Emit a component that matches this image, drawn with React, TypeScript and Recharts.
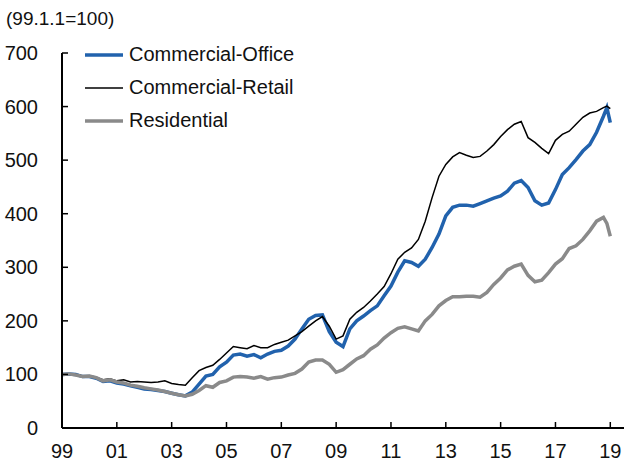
import React from 'react';
import { LineChart, Line, XAxis, YAxis } from 'recharts';

// quarterly points (fractional year), last quarter split to catch the peak
const periods = [
  1999, 1999.25, 1999.5, 1999.75,
  2000, 2000.25, 2000.5, 2000.75,
  2001, 2001.25, 2001.5, 2001.75,
  2002, 2002.25, 2002.5, 2002.75,
  2003, 2003.25, 2003.5, 2003.75,
  2004, 2004.25, 2004.5, 2004.75,
  2005, 2005.25, 2005.5, 2005.75,
  2006, 2006.25, 2006.5, 2006.75,
  2007, 2007.25, 2007.5, 2007.75,
  2008, 2008.25, 2008.5, 2008.75,
  2009, 2009.25, 2009.5, 2009.75,
  2010, 2010.25, 2010.5, 2010.75,
  2011, 2011.25, 2011.5, 2011.75,
  2012, 2012.25, 2012.5, 2012.75,
  2013, 2013.25, 2013.5, 2013.75,
  2014, 2014.25, 2014.5, 2014.75,
  2015, 2015.25, 2015.5, 2015.75,
  2016, 2016.25, 2016.5, 2016.75,
  2017, 2017.25, 2017.5, 2017.75,
  2018, 2018.25, 2018.5, 2018.75, 2018.875,
  2019,
];

const office = [
  100, 101, 100, 96,
  96, 93, 87, 88,
  84, 82, 79, 76,
  73, 72, 70, 68,
  65, 62, 60, 67,
  82, 97, 100, 114,
  123, 136, 138, 134,
  137, 131, 138, 143,
  145, 153, 166, 185,
  203, 210, 211, 180,
  160, 152, 185, 200,
  209, 219, 228, 247,
  265, 291, 312, 309,
  302, 315, 337, 362,
  396, 412, 416, 416,
  414, 419, 424, 429,
  433, 442, 457, 462,
  449, 424, 416, 420,
  445, 473, 486, 501,
  517, 529, 552, 582, 598,
  570,
];

const retail = [
  100, 101, 100, 97,
  97, 94, 90, 92,
  88, 90, 86, 87,
  86, 85, 86, 88,
  83, 81, 80, 94,
  107, 113, 117, 128,
  140, 152, 150, 148,
  154, 150, 150, 156,
  160, 164, 172, 180,
  190, 200, 208, 190,
  166, 172, 203, 216,
  225, 237, 250, 264,
  288, 315, 328, 336,
  352, 386, 430, 470,
  492, 506, 514, 509,
  505, 507, 517, 529,
  544, 557, 567, 572,
  542, 533, 522, 512,
  537, 548, 554, 567,
  580, 588, 591, 598, 601,
  596,
];

const residential = [
  100, 101, 99, 96,
  97, 94, 88, 90,
  86, 84, 80, 78,
  75, 73, 71, 68,
  65, 62, 60, 63,
  70, 79, 76, 85,
  88, 95, 96, 95,
  93, 96, 91, 94,
  95, 99, 102, 110,
  123, 127, 127, 119,
  104, 109, 119, 129,
  135, 147, 155, 168,
  178, 186, 189, 185,
  181, 200, 212, 228,
  238, 245, 245, 246,
  246, 244, 253, 268,
  280, 295, 302, 306,
  285, 273, 276, 290,
  306, 316, 335, 340,
  352, 368, 386, 393, 382,
  358,
];

const yearTicks = [1999, 2001, 2003, 2005, 2007, 2009, 2011, 2013, 2015, 2017, 2019];
const valueTicks = [0, 100, 200, 300, 400, 500, 600, 700];

const series = [
  { key: 'office', name: 'Commercial-Office', color: '#2162ad', width: 3.5 },
  { key: 'retail', name: 'Commercial-Retail', color: '#000000', width: 1.5 },
  { key: 'residential', name: 'Residential', color: '#8a8a8a', width: 3.5 },
];

const data = periods.map((t, i) => ({
  t,
  office: office[i],
  retail: retail[i],
  residential: residential[i],
}));

const FONT = '"Liberation Sans", Arial, sans-serif';
const X_MARGIN = 16;
const Y_MARGIN = 24;

const XTick = (props: any) => {
  const { x, y, payload } = props;
  const axisY = y - X_MARGIN;
  const label = String(payload.value).slice(2);
  return (
    <g>
      <line x1={x} x2={x} y1={axisY} y2={axisY - 6} stroke="#000" strokeWidth={1.5} />
      <text x={x} y={y} dy={14} textAnchor="middle" fontSize={20} fill="#111" fontFamily={FONT}>
        {label}
      </text>
    </g>
  );
};

const YTick = (props: any) => {
  const { x, y, payload } = props;
  const axisX = x + Y_MARGIN;
  return (
    <g>
      <line x1={axisX} x2={axisX + 6} y1={y} y2={y} stroke="#000" strokeWidth={1.5} />
      <text x={x} y={y} dy={7} textAnchor="end" fontSize={20} fill="#111" fontFamily={FONT}>
        {payload.value}
      </text>
    </g>
  );
};

export default function App() {
  return (
    <div style={{ position: 'absolute', left: 0, top: 0, width: 624, height: 462, background: '#fff' }}>
      <LineChart
        width={624}
        height={462}
        data={data}
        margin={{ top: 53, right: 0, bottom: 4, left: 0 }}
      >
        <XAxis
          dataKey="t"
          type="number"
          domain={[1999, 2019.5]}
          ticks={yearTicks}
          interval={0}
          tick={<XTick />}
          tickLine={false}
          tickSize={0}
          tickMargin={X_MARGIN}
          axisLine={{ stroke: '#000', strokeWidth: 2 }}
          height={30}
          allowDataOverflow
        />
        <YAxis
          type="number"
          domain={[0, 700]}
          ticks={valueTicks}
          interval={0}
          tick={<YTick />}
          tickLine={false}
          tickSize={0}
          tickMargin={Y_MARGIN}
          axisLine={{ stroke: '#000', strokeWidth: 2 }}
          width={62}
        />
        {series.map((s) => (
          <Line
            key={s.key}
            type="linear"
            dataKey={s.key}
            name={s.name}
            stroke={s.color}
            strokeWidth={s.width}
            dot={false}
            isAnimationActive={false}
          />
        ))}
      </LineChart>
      <div
        style={{
          position: 'absolute',
          left: 6,
          top: 8,
          fontFamily: FONT,
          fontSize: 19,
          color: '#111',
        }}
      >
        (99.1.1=100)
      </div>
      <div
        style={{
          position: 'absolute',
          left: 84,
          top: 38,
          fontFamily: FONT,
          fontSize: 20,
          color: '#111',
        }}
      >
        {series.map((s) => (
          <div key={s.key} style={{ display: 'flex', alignItems: 'center', height: 33 }}>
            <svg width={43} height={10} style={{ marginRight: 2 }}>
              <line x1={1} x2={39} y1={5} y2={5} stroke={s.color} strokeWidth={s.width} />
            </svg>
            <span>{s.name}</span>
          </div>
        ))}
      </div>
    </div>
  );
}
